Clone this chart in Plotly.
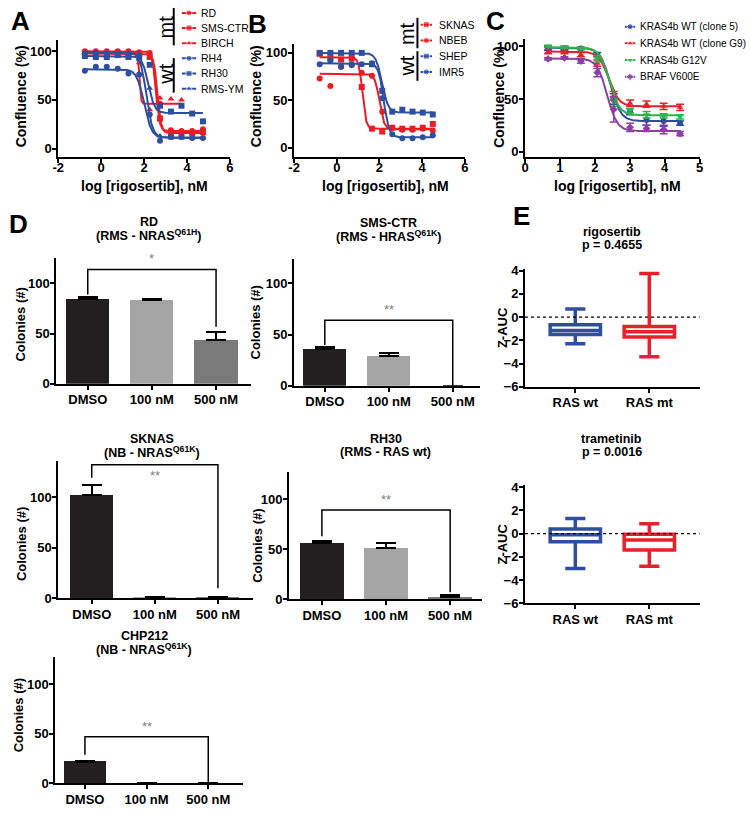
import numpy as np
import plotly.graph_objects as go

W, H = 750, 816
FONT = "Liberation Sans, Arial, sans-serif"
RED = "#ec1c24"
BLUE = "#2e4f9f"

# ---------------- Panel A : RMS lines, confluence vs log dose
A_NAMES = ["RD", "SMS-CTR", "BIRCH", "RH4", "RH30", "RMS-YM"]
A_GROUP = ["mt", "mt", "mt", "wt", "wt", "wt"]
A_SYMBOL = ["circle", "square", "triangle-up", "circle", "square", "triangle-up"]
A_LOGDOSE = [-0.76, -0.25, 0.26, 0.77, 1.27, 1.77, 2.26, 2.74, 3.25, 3.74, 4.24, 4.74]
A_RD = [100, 100, 100, 100, 100, 99, 98, 46, 19, 18, 18, 20]
A_SMS_CTR = [97, 98, 97, 98, 97, 97, 94, 31, 16, 16, 16, 17]
A_BIRCH = [99, 99, 99, 99, 99, 88, 40, 52, 51, 50]
A_RH4 = [80, 84, 84, 82, 77, 76, 35, 8, 12, 12, 11, 11]
A_RH30 = [95, 94, 94, 96, 94, 93, 86, 44, 38, 44, 36, 28]
A_RMS_YM = [99, 99, 99, 98, 98, 97, 62, 13, 11, 11, 11, 11]
# fitted curves (top, bottom, logIC50, hill) as drawn in the figure
A_TOP = [100, 97.5, 99, 81.5, 95, 99]
A_BOTTOM = [18, 16, 46, 11, 36.5, 11.5]
A_LOGIC50 = [2.55, 2.62, 1.78, 2.0, 2.2, 2.1]
A_HILL = [5, 5, 12, 2.5, 3, 3]

# ---------------- Panel B : NB lines
B_NAMES = ["SKNAS", "NBEB", "SHEP", "IMR5"]
B_SYMBOL = ["square", "circle", "square", "circle"]
B_LOGDOSE = [-0.8, -0.3, 0.2, 0.7, 1.17, 1.65, 2.13, 2.6, 3.07, 3.55, 4.03, 4.5]
B_SKNAS = [99, 94, 93, 94, 64, 20, 17, 21, 20, 20, 21, 25]
B_NBEB = [73, 65, 86, 87, 79, 76, 38, 21, 19, 19, 20, 18]
B_SHEP = [100, 100, 100, 100, 100, 88, 60, 38, 40, 38, 37, 35]
B_IMR5 = [88, 92, 85, 88, 88, 89, 52, 14, 10, 10, 11, 13]
B_TOP = [95.5, 78, 100, 89]
B_BOTTOM = [20, 19.5, 37, 11]
B_LOGIC50 = [1.2, 2.0, 2.12, 2.2]
B_HILL = [5, 4, 3, 3.5]

# ---------------- Panel C : isogenic lines
C_NAMES = ["KRAS4b WT (clone 5)", "KRAS4b WT (clone G9)", "KRAS4b G12V", "BRAF V600E"]
C_SYMBOL = ["circle", "triangle-up", "triangle-down", "diamond"]
C_COLORS = ["#2c4da0", "#e8202a", "#2fb34a", "#8e3fa0"]
C_LOGDOSE = [0.66, 1.13, 1.6, 2.07, 2.54, 3.01, 3.48, 3.97, 4.44]
C_CLONE5 = [98, 98, 98, 92, 50, 38, 30, 29, 27]
C_CLONE5_ERR = [2, 2, 1, 2, 5, 3, 5, 5, 2]
C_CLONEG9 = [95, 95, 92, 84, 53, 46, 45, 43, 42]
C_CLONEG9_ERR = [2, 2, 2, 3, 4, 3, 3, 3, 3]
C_G12V = [100, 99, 98, 88, 47, 39, 35, 34, 33]
C_G12V_ERR = [1, 1, 1, 3, 4, 2, 3, 2, 2]
C_BRAF = [88, 89, 86, 75, 40, 23, 22, 21, 17]
C_BRAF_ERR = [1, 1, 2, 4, 12, 4, 3, 4, 2]
C_TOP = [98.5, 95, 99, 88.5]
C_BOTTOM = [29, 43, 34.5, 19.5]
C_LOGIC50 = [2.45, 2.4, 2.42, 2.35]
C_HILL = [3, 3, 3, 3]

# ---------------- Panel D : colony assays
D_DOSES = ["DMSO", "100 nM", "500 nM"]
D_BAR_COLORS = ["#231f20", "#a5a5a5", "#7a7a7a"]
RD_COLONIES = [85, 84, 44]
RD_ERR = [2, 1, 8]
SMS_COLONIES = [36, 29, 0]
SMS_ERR = [2, 3, 0]
SKNAS_COLONIES = [102, 1, 1]
SKNAS_ERR = [10, 0, 0]
RH30_COLONIES = [56, 51, 2]
RH30_ERR = [2, 5, 2]
CHP_COLONIES = [22, 0, 0]
CHP_ERR = [1, 0, 0]
# significance brackets: (left leg bottom, bracket height, right leg bottom, label)
RD_SIG = [89, 114, 57, "*"]
SMS_SIG = [40, 64, 0, "**"]
SKNAS_SIG = [119, 132, 10, "**"]
RH30_SIG = [63, 89, 7, "**"]
CHP_SIG = [29, 47, 0, "**"]

# ---------------- Panel E : Z-AUC box plots
E_GROUPS = ["RAS wt", "RAS mt"]
E_COLORS = [BLUE, "#e8202a"]
RIGO_Q1 = [-1.5, -1.7]
RIGO_MED = [-1.15, -1.25]
RIGO_Q3 = [-0.65, -0.8]
RIGO_LO = [-2.3, -3.4]
RIGO_HI = [0.7, 3.75]
TRAM_Q1 = [-0.7, -1.4]
TRAM_MED = [-0.1, -0.55]
TRAM_Q3 = [0.4, -0.05]
TRAM_LO = [-3.0, -2.8]
TRAM_HI = [1.3, 0.85]


def sigmoid(x, top, bottom, logic50, hill):
    return bottom + (top - bottom) / (1 + 10 ** ((x - logic50) * hill))


def xdom(left, right):
    return [left / W, right / W]


def ydom(top, bottom):
    return [1 - bottom / H, 1 - top / H]


def axname(i, letter):
    return f"{letter}axis" if i == 1 else f"{letter}axis{i}"


def ref(i, letter):
    return letter if i == 1 else f"{letter}{i}"


AX = dict(
    showgrid=False, zeroline=False, showline=True, linecolor="black", linewidth=2,
    ticks="outside", ticklen=4, tickwidth=2, tickcolor="black",
    tickfont=dict(family=FONT, size=13, weight="bold", color="black"), fixedrange=True,
)
HIDDEN = dict(visible=False, fixedrange=True)

fig = go.Figure()
layout = {}
annotations = []
shapes = []


def set_axes(i, xd, yd, xr, yr, xtick, ytick, xtext=None, xstand=-1):
    layout[axname(i, "x")] = dict(AX, domain=xd, range=xr, anchor=ref(i, "y"), tickvals=xtick,
                                  ticktext=xtext if xtext else [str(v) for v in xtick],
                                  ticklabelstandoff=xstand)
    layout[axname(i, "y")] = dict(AX, domain=yd, range=yr, anchor=ref(i, "x"), tickvals=ytick,
                                  ticklabelstandoff=-2)


def text(x, y, s, size=13, bold=True, angle=0, xanchor="center", xref="paper", yref="paper"):
    annotations.append(dict(
        x=x / W if xref == "paper" else x, y=1 - y / H if yref == "paper" else y,
        xref=xref, yref=yref, text=s, showarrow=False, textangle=angle,
        xanchor=xanchor, yanchor="middle",
        font=dict(family=FONT, size=size, color="black", weight="bold" if bold else "normal"),
    ))


def title2(x, y, line1, line2):
    # two stacked title lines, set tighter than plotly's own <br> spacing
    text(x, y, line1, size=12.5)
    text(x, y + 13, line2, size=12.5)


# ---------- dose-response panels
def dose_panel(i, xs, series, names, symbols, colors, tops, bottoms, ic50s, hills, errs=None):
    for k, ys in enumerate(series):
        xk = xs[:len(ys)]
        fig.add_trace(go.Scatter(
            x=xk, y=ys, mode="markers", xaxis=ref(i, "x"), yaxis=ref(i, "y"),
            marker=dict(symbol=symbols[k], size=6, color=colors[k]),
            error_y=dict(type="data", array=errs[k], color=colors[k], thickness=1.5, width=4)
            if errs else None,
            cliponaxis=False,
        ))
        xf = np.linspace(xk[0], xk[-1], 300)
        fig.add_trace(go.Scatter(
            x=xf, y=sigmoid(xf, tops[k], bottoms[k], ic50s[k], hills[k]), mode="lines",
            xaxis=ref(i, "x"), yaxis=ref(i, "y"), line=dict(color=colors[k], width=2),
        ))


a_colors = [RED if g == "mt" else BLUE for g in A_GROUP]
dose_panel(1, A_LOGDOSE, [A_RD, A_SMS_CTR, A_BIRCH, A_RH4, A_RH30, A_RMS_YM], A_NAMES, A_SYMBOL,
           a_colors, A_TOP, A_BOTTOM, A_LOGIC50, A_HILL)
set_axes(1, xdom(53, 227), ydom(36, 154), [-2, 6], [-8.1, 111], [-2, 0, 2, 4, 6], [0, 50, 100],
         xstand=-6)

b_colors = [RED, RED, BLUE, BLUE]
dose_panel(2, B_LOGDOSE, [B_SKNAS, B_NBEB, B_SHEP, B_IMR5], B_NAMES, B_SYMBOL, b_colors,
           B_TOP, B_BOTTOM, B_LOGIC50, B_HILL)
set_axes(2, xdom(292, 465), ydom(40, 154), [-2, 6], [-9.4, 109], [-2, 0, 2, 4, 6], [0, 50, 100],
         xstand=-6)

dose_panel(3, C_LOGDOSE, [C_CLONE5, C_CLONEG9, C_G12V, C_BRAF], C_NAMES, C_SYMBOL, C_COLORS,
           C_TOP, C_BOTTOM, C_LOGIC50, C_HILL,
           errs=[C_CLONE5_ERR, C_CLONEG9_ERR, C_G12V_ERR, C_BRAF_ERR])
set_axes(3, xdom(526, 703), ydom(35, 154), [0, 5], [-4.7, 106.5], [0, 1, 2, 3, 4, 5], [0, 50, 100],
         xstand=-6)

for xc in (140, 385, 620):
    text(xc, 184, "log [rigosertib], nM", size=14)
text(15, 93, "Confluence (%)", size=14, angle=-90)
text(253, 93, "Confluence (%)", size=14, angle=-90)
text(499, 93, "Confluence (%)", size=14, angle=-90)


# ---------- custom legends
def legend(i, xd, yd, names, symbols, colors, text_x, size):
    n = len(names)
    layout[axname(i, "x")] = dict(HIDDEN, domain=xd, range=[0, 1])
    layout[axname(i, "y")] = dict(HIDDEN, domain=yd, range=[n - 0.5, -0.5])
    for k in range(n):
        fig.add_trace(go.Scatter(
            x=[0, 0.5, 1], y=[k, k, k], mode="lines+markers", xaxis=ref(i, "x"), yaxis=ref(i, "y"),
            line=dict(color=colors[k], width=2),
            marker=dict(symbol=symbols[k], size=[0, 6, 0], color=colors[k]), cliponaxis=False,
        ))
        annotations.append(dict(
            x=text_x / W, y=k, xref="paper", yref=ref(i, "y"), text=names[k], showarrow=False,
            xanchor="left", yanchor="middle", font=dict(family=FONT, size=size, color="black"),
        ))


legend(11, xdom(178, 193), ydom(0.3, 92.7), A_NAMES, A_SYMBOL, a_colors, 196, 10.5)
legend(12, xdom(420, 432), ydom(12, 76), B_NAMES, B_SYMBOL, b_colors, 437, 10.5)
legend(13, xdom(627, 638), ydom(13.5, 81.5), C_NAMES, C_SYMBOL, C_COLORS, 641, 10)


def group_bar(x, y0, y1, label, ycenter, xlabel):
    shapes.append(dict(type="line", xref="paper", yref="paper", x0=x / W, x1=x / W,
                       y0=1 - y0 / H, y1=1 - y1 / H, line=dict(color="black", width=2)))
    text(xlabel, ycenter, label, size=20, bold=False, angle=-90)


group_bar(170, 3, 41, "mt", 22, 162)
group_bar(170, 54, 89, "wt", 70, 162)
group_bar(417, 13, 44, "mt", 29, 406)
group_bar(417, 47, 77, "wt", 62, 406)


# ---------- colony bar panels
def bar_panel(i, vals, errs, sig, xd, yd, xr, yr, title, subtitle, tx, ty, star_below=False):
    xs = list(range(len(D_DOSES)))
    fig.add_trace(go.Bar(
        x=xs, y=vals, xaxis=ref(i, "x"), yaxis=ref(i, "y"), width=0.68,
        marker=dict(color=D_BAR_COLORS, line=dict(width=0)),
        error_y=dict(type="data", array=errs, arrayminus=[0] * len(errs), symmetric=False,
                     color="black", thickness=2, width=10),
    ))
    left, top, right, label = sig
    fig.add_trace(go.Scatter(
        x=[xs[0], xs[0], xs[-1], xs[-1]], y=[left, top, top, right], mode="lines",
        xaxis=ref(i, "x"), yaxis=ref(i, "y"), line=dict(color="black", width=1.5),
    ))
    annotations.append(dict(
        x=xs[1], y=top, xref=ref(i, "x"), yref=ref(i, "y"), text=label, showarrow=False,
        yanchor="top" if star_below else "bottom", yshift=-1 if star_below else 1,
        font=dict(family=FONT, size=13, color="#7f7f7f"),
    ))
    set_axes(i, xd, yd, xr, yr, xs, [0, 50, 100], xtext=D_DOSES)
    title2(tx, ty, title, subtitle)


bar_panel(4, RD_COLONIES, RD_ERR, RD_SIG, xdom(51, 248), ydom(257, 385), [-0.49, 2.54],
          [0, 125.5], "RD", "(RMS - NRAS<sup>Q61H</sup>)", 145, 221)
bar_panel(5, SMS_COLONIES, SMS_ERR, SMS_SIG, xdom(292, 480), ydom(258, 387), [-0.48, 2.42],
          [0, 124], "SMS-CTR", "(RMS - HRAS<sup>Q61K</sup>)", 388, 222)
bar_panel(7, SKNAS_COLONIES, SKNAS_ERR, SKNAS_SIG, xdom(53, 250), ydom(463, 603), [-0.53, 2.55],
          [0, 136], "SKNAS", "(NB - NRAS<sup>Q61K</sup>)", 148, 441, star_below=True)
bar_panel(8, RH30_COLONIES, RH30_ERR, RH30_SIG, xdom(287, 482), ydom(475, 604), [-0.51, 2.49],
          [0, 126.5], "RH30", "(RMS - RAS wt)", 385, 441)
bar_panel(10, CHP_COLONIES, CHP_ERR, CHP_SIG, xdom(50, 240), ydom(663, 791), [-0.48, 2.56],
          [0, 127], "CHP212", "(NB - NRAS<sup>Q61K</sup>)", 140, 641)

for x, y in [(15, 325), (253, 323), (15, 548), (255, 550), (13, 722)]:
    text(x, y, "Colonies (#)", angle=-90)


# ---------- Z-AUC box panels
def box_panel(i, q1, med, q3, lo, hi, yd, title, pval, ty):
    for k in range(len(E_GROUPS)):
        fig.add_trace(go.Box(
            x=[k], q1=[q1[k]], median=[med[k]], q3=[q3[k]], lowerfence=[lo[k]], upperfence=[hi[k]],
            xaxis=ref(i, "x"), yaxis=ref(i, "y"), width=0.68, whiskerwidth=0.4,
            line=dict(color=E_COLORS[k], width=3.5), fillcolor="white", boxpoints=False,
        ))
    set_axes(i, xdom(526, 703), yd, [-0.68, 1.68], [-6, 4.17], [0, 1], [-6, -4, -2, 0, 2, 4],
             xtext=E_GROUPS)
    shapes.append(dict(type="line", xref=f"{ref(i, 'x')} domain", yref=ref(i, "y"), x0=0, x1=1,
                       y0=0, y1=0, line=dict(color="black", width=1.2, dash="dot")))
    title2(614, ty, title, pval)
    yc = ((1 - yd[0]) * H + (1 - yd[1]) * H) / 2
    text(503, yc, "Z-AUC", angle=-90)


box_panel(6, RIGO_Q1, RIGO_MED, RIGO_Q3, RIGO_LO, RIGO_HI, ydom(268, 388),
          "rigosertib", "p = 0.4655", 231)
box_panel(9, TRAM_Q1, TRAM_MED, TRAM_Q3, TRAM_LO, TRAM_HI, ydom(488, 608),
          "trametinib", "p = 0.0016", 441)

# ---------- panel letters
for letter, x, y in [("A", 15, 16), ("B", 255, 19), ("C", 496, 16), ("D", 13, 223), ("E", 522, 214)]:
    text(x, y, letter, size=26)

fig.update_layout(
    **layout,
    width=W, height=H, margin=dict(l=0, r=0, t=0, b=0),
    paper_bgcolor="white", plot_bgcolor="white", showlegend=False,
    bargap=0, font=dict(family=FONT, color="black"),
    annotations=annotations, shapes=shapes,
)
# the page body has a default 8px margin; remove it so the figure sits at the window origin
fig.write_html("out.html", config={"displayModeBar": False},
               post_script="document.body.style.margin='0';")
